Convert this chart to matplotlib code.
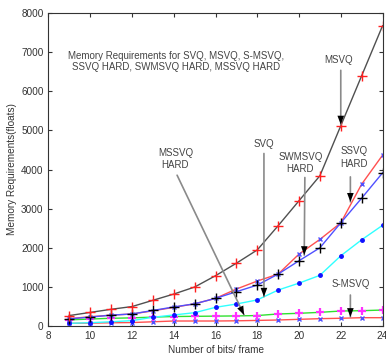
import matplotlib
matplotlib.use("Agg")
import matplotlib.pyplot as plt

plt.rcParams['font.family'] = ['Liberation Sans', 'DejaVu Sans']

bits = [9, 10, 11, 12, 13, 14, 15, 16, 17, 18, 19, 20, 21, 22, 23, 24]
msvq = [260, 340, 420, 490, 650, 810, 990, 1280, 1600, 1940, 2560, 3200, 3840, 5120, 6400, 7680]
ssvq_hard = [180, 230, 270, 300, 380, 470, 560, 700, 938, 1143, 1322, 1834, 2210, 2634, 3624, 4366]
swmsvq_hard = [175, 220, 270, 300, 390, 480, 560, 700, 870, 1040, 1322, 1663, 1995, 2634, 3266, 3913]
svq = [60, 77, 100, 130, 215, 275, 333, 470, 555, 660, 913, 1090, 1290, 1790, 2200, 2570]
mssvq_hard = [150, 170, 190, 200, 220, 235, 240, 245, 250, 260, 300, 317, 342, 376, 384, 401]
s_msvq = [60, 65, 75, 80, 100, 120, 120, 120, 125, 135, 146, 163, 180, 190, 205, 205]

fig = plt.figure(figsize=(3.86, 3.6), dpi=100)
ax = fig.add_axes([0.1256, 0.0953, 0.8654, 0.8677])

ax.plot(bits, s_msvq, color='#ff5050', lw=1, marker='x', ms=3.5, mec='#5050ff', mew=1)
ax.plot(bits, mssvq_hard, color='#30e030', lw=1, marker='+', ms=6, mec='#ff30ff', mew=1.6)
ax.plot(bits, svq, color='#30ffff', lw=1, marker='.', ms=5, mec='#1010ff', mfc='#1010ff')
ax.plot(bits, ssvq_hard, color='#ff5050', lw=1, marker='x', ms=3.5, mec='#5050ff', mew=1)
ax.plot(bits, swmsvq_hard, color='#5050ff', lw=1, marker='+', ms=7, mec='black', mew=1)
ax.plot(bits, msvq, color='#505050', lw=1, marker='+', ms=7, mec='#ff2020', mew=1)

ax.set_xlim(8, 24)
ax.set_ylim(0, 8000)
ax.set_xticks([8, 10, 12, 14, 16, 18, 20, 22, 24])
ax.set_yticks(range(0, 8001, 1000))
ax.tick_params(direction='in', top=True, right=True, labelsize=7.2, colors='#333333',
               length=3, width=0.8)
for s in ax.spines.values():
    s.set_color('#333333')
    s.set_linewidth(0.8)

ax.set_xlabel('Number of bits/ frame', fontsize=7.2, color='#333333', labelpad=3)
ax.set_ylabel('Memory Requirements(floats)', fontsize=7.2, color='#333333', labelpad=3)

tc = '#444444'
ax.text(14.1, 6770, 'Memory Requirements for SVQ, MSVQ, S-MSVQ,\nSSVQ HARD, SWMSVQ HARD, MSSVQ HARD',
        ha='center', va='center', fontsize=7.0, color=tc, linespacing=1.15)

def ann(label, txy, start, tip):
    ax.text(txy[0], txy[1], label, ha='center', va='center', fontsize=7.0, color=tc,
            linespacing=1.3)
    ax.annotate('', xy=tip, xytext=start,
                arrowprops=dict(arrowstyle='-', color='#8a8a8a', lw=1.2,
                                shrinkA=0, shrinkB=0))
    ax.annotate('', xy=tip, xytext=start,
                arrowprops=dict(arrowstyle='-|>,head_length=0.8,head_width=0.3',
                                color='black', lw=0, mutation_scale=8,
                                shrinkA=0, shrinkB=0))

ann('MSVQ', (21.9, 6808), (22.0, 6540), (22.0, 5150))
ann('SVQ', (18.3, 4664), (18.32, 4410), (18.32, 742))
ann('SWMSVQ\nHARD', (20.06, 4174), (20.28, 3795), (20.25, 1808))
ann('SSVQ\nHARD', (22.62, 4305), (22.46, 3811), (22.46, 3171))
ann('S-MSVQ', (22.46, 1066), (22.46, 785), (22.46, 222))
ann('MSSVQ\nHARD', (14.08, 4271), (14.16, 3854), (17.37, 274))

fig.savefig('out.png', dpi=100)
